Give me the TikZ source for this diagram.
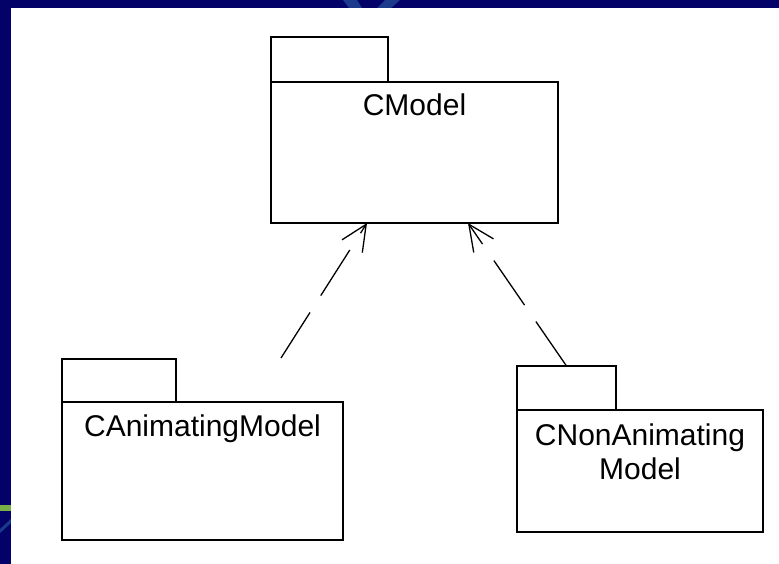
\documentclass[tikz,border=0pt]{standalone}
\usepackage{xcolor}
\usepackage{fontspec}
\setmainfont{Liberation Sans}
\usepackage{tikz}
\usetikzlibrary{positioning, arrows.meta}
\definecolor{slidenavy}{RGB}{2,2,104}
\definecolor{slideblue}{RGB}{28,58,140}
\definecolor{slidegreen}{RGB}{120,175,70}
\tikzset{
    pkgbox/.style={
        draw, line width = 2pt,
        inner sep = 0pt, outer sep = 0pt,
        fill = white
    },
    pkgname/.style = {inner sep = 0pt, align = center, font = \fontsize{30}{34}\selectfont},
    dep/.style = {line width = 1.3pt, dash pattern = on 54pt off 20pt, -{Straight Barb[length=26pt, width=24pt]}}
}
\begin{document}
\begin{tikzpicture}[x = 1pt, y = -1pt]
                            \useasboundingbox (0,0) rectangle (779,564);
                            % slide background
                            \fill[slidenavy] (0,0) rectangle (779,564);
                            \fill[slideblue] (343,0) -- (357,0) -- (362,8) -- (349,8) -- cycle;
                            \fill[slideblue] (385,0) -- (400,0) -- (391,8) -- (377,8) -- cycle;
                            \fill[slidegreen] (0,505) rectangle (11,510.5);
                            \fill[slideblue] (0,529) -- (11,519) -- (11,523) -- (0,533) -- cycle;
                            \fill[white] (11,8) rectangle (779,564);

                            \node[pkgbox, minimum width = 287pt, minimum height = 141pt] (cmodel) at (414.5,152.5) {};
                            \node[pkgbox, minimum width = 117pt, minimum height = 45pt, above right = 0pt of cmodel.north west] (cmodel-tab) {};
                            \node[pkgname, below = 12pt of cmodel.north] (cmodel-name) {CModel};

                            \node[pkgbox, minimum width = 281pt, minimum height = 138pt] (canim) at (202.5,471) {};
                            \node[pkgbox, minimum width = 114pt, minimum height = 43pt, above right = 0pt of canim.north west] (canim-tab) {};
                            \node[pkgname, below = 13pt of canim.north] (canim-name) {CAnimatingModel};

                            \node[pkgbox, minimum width = 246pt, minimum height = 122pt] (cnon) at (640,471) {};
                            \node[pkgbox, minimum width = 99pt, minimum height = 44pt, above right = 0pt of cnon.north west] (cnon-tab) {};
                            \node[pkgname, below = 14pt of cnon.north] (cnon-name) {CNonAnimating\\Model};

                            \coordinate (canim-end) at (281,358);
                            \draw[dep] (canim-end) -- ([xshift = -47.5pt]cmodel.south);
                            \draw[dep] (cnon-tab.north) -- ([xshift = 53.5pt]cmodel.south);

                        \end{tikzpicture}
\end{document}
